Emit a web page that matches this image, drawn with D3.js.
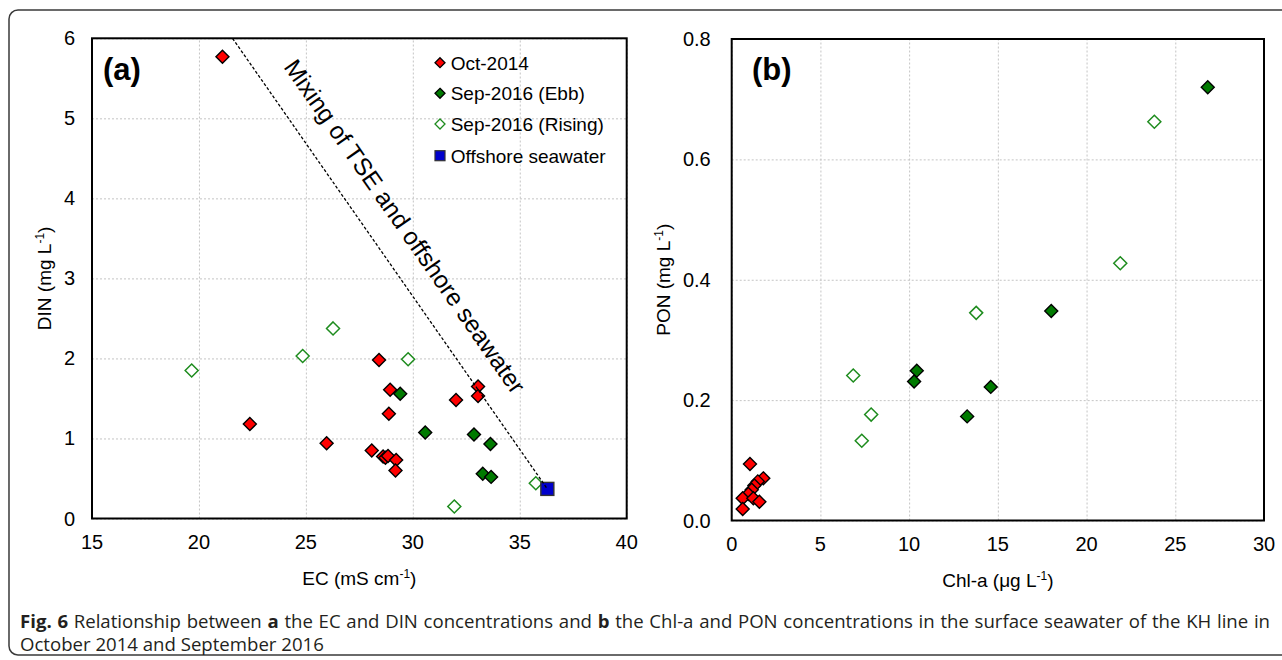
<!DOCTYPE html>
<html>
<head>
<meta charset="utf-8">
<script src="https://cdn.jsdelivr.net/npm/d3@7"></script>
<style>
  body { margin: 0; background: #fff; }
  svg { display: block; }
  .tick-label { font-family: Arial, "Liberation Sans", Helvetica, sans-serif; font-size: 20px; fill: #000; }
  .axis-title { font-family: Arial, "Liberation Sans", Helvetica, sans-serif; font-size: 19px; fill: #000; }
  .caption { font-family: "Open Sans", sans-serif; font-size: 18.6px; fill: #231f20; }
</style>
</head>
<body>
<svg id="canvas" width="1282" height="660"></svg>
<script>
// ---- data ----
// panel (a): EC (mS cm-1) vs DIN (mg L-1)
let oct2014A = [[21.1, 5.77], [22.38, 1.18], [25.97, 0.94], [28.42, 1.98], [28.94, 1.61], [28.88, 1.31],
                [28.08, 0.85], [28.61, 0.775], [28.72, 0.76], [28.84, 0.78], [29.22, 0.73], [29.19, 0.60],
                [33.05, 1.65], [33.05, 1.53], [32.02, 1.48]]
let ebb2016A = [[29.41, 1.56], [30.58, 1.075], [32.86, 1.05], [33.63, 0.93], [33.27, 0.56], [33.66, 0.52]]
let rising2016A = [[19.66, 1.85], [24.85, 2.03], [26.27, 2.375], [29.78, 1.99], [35.75, 0.44], [31.94, 0.15]]
let offshoreA = [[36.29, 0.37]]
let mixingLine = [[21.57, 6], [36.29, 0.37]]

// panel (b): Chl-a (ug L-1) vs PON (mg L-1)
let oct2014B = [[1.03, 0.094], [1.78, 0.070], [1.47, 0.065], [1.28, 0.058], [1.13, 0.051], [0.94, 0.044],
                [0.62, 0.037], [1.22, 0.037], [1.56, 0.031], [0.62, 0.019]]
let ebb2016B = [[26.83, 0.72], [18.01, 0.348], [10.43, 0.249], [10.28, 0.231], [14.6, 0.222], [13.27, 0.173]]
let rising2016B = [[23.82, 0.6625], [21.9, 0.4275], [13.78, 0.345], [6.85, 0.241], [7.86, 0.176], [7.33, 0.1325]]

let ticksAx = [15, 20, 25, 30, 35, 40]
let ticksAy = [0, 1, 2, 3, 4, 5, 6]
let ticksBx = [0, 5, 10, 15, 20, 25, 30]
let ticksBy = [0, 0.2, 0.4, 0.6, 0.8]

let legendNames = ['Oct-2014', 'Sep-2016 (Ebb)', 'Sep-2016 (Rising)', 'Offshore seawater']

let chartFont = 'Arial, "Liberation Sans", Helvetica, sans-serif'
let canvas = d3.select('#canvas')

// outer frame of the figure
canvas.append('rect')
    .attr('x', 9).attr('y', 10)
    .attr('width', 1290).attr('height', 645)
    .attr('rx', 9)
    .attr('fill', 'none')
    .attr('stroke', '#3a3a3a')
    .attr('stroke-width', 1.5)

let diamond = (r) => 'M0,' + (-r) + 'L' + r + ',0L0,' + r + 'L' + (-r) + ',0Z'

let styles = {
    oct: { fill: '#ff0000', stroke: '#000', sw: 1.4 },
    ebb: { fill: '#007a00', stroke: '#000', sw: 1.4 },
    rising: { fill: '#fff', stroke: '#1e8c1e', sw: 1.5 }
}

let drawPanel = (opt) => {
    let x = d3.scaleLinear().domain(opt.xDomain).range(opt.xRange)
    let y = d3.scaleLinear().domain(opt.yDomain).range(opt.yRange)
    let g = canvas.append('g')

    // dotted grid
    g.append('g').attr('transform', 'translate(0,' + opt.yRange[0] + ')')
        .call(d3.axisBottom(x).tickValues(opt.xTicks).tickSize(opt.yRange[1] - opt.yRange[0]).tickFormat(''))
        .call(a => a.select('.domain').remove())
        .call(a => a.selectAll('line').attr('stroke', '#c4c4c4').attr('stroke-dasharray', '2,2'))
    g.append('g').attr('transform', 'translate(' + opt.xRange[0] + ',0)')
        .call(d3.axisLeft(y).tickValues(opt.yTicks).tickSize(opt.xRange[0] - opt.xRange[1]).tickFormat(''))
        .call(a => a.select('.domain').remove())
        .call(a => a.selectAll('line').attr('stroke', '#c4c4c4').attr('stroke-dasharray', '2,2'))

    // tick labels
    g.selectAll('.xl').data(opt.xTicks).enter().append('text')
        .attr('class', 'tick-label')
        .attr('x', d => x(d)).attr('y', opt.yRange[0] + 30)
        .attr('text-anchor', 'middle')
        .text(d => d)
    g.selectAll('.yl').data(opt.yTicks).enter().append('text')
        .attr('class', 'tick-label')
        .attr('x', opt.xRange[0] - opt.yLabelGap).attr('y', d => y(d) + 7)
        .attr('text-anchor', 'end')
        .text(opt.yFormat)

    // plot border
    g.append('rect')
        .attr('x', opt.xRange[0]).attr('y', opt.yRange[1])
        .attr('width', opt.xRange[1] - opt.xRange[0])
        .attr('height', opt.yRange[0] - opt.yRange[1])
        .attr('fill', 'none').attr('stroke', '#000').attr('stroke-width', 2)

    // axis titles
    let xt = g.append('text').attr('class', 'axis-title')
        .attr('x', (opt.xRange[0] + opt.xRange[1]) / 2).attr('y', opt.yRange[0] + 66)
        .attr('text-anchor', 'middle')
    xt.append('tspan').text(opt.xTitle)
    xt.append('tspan').attr('dy', -7).attr('font-size', 12).text('-1')
    xt.append('tspan').attr('dy', 7).text(')')

    let cy = (opt.yRange[0] + opt.yRange[1]) / 2
    let yt = g.append('text').attr('class', 'axis-title')
        .attr('transform', 'translate(' + opt.yTitleX + ',' + cy + ') rotate(-90)')
        .attr('text-anchor', 'middle')
    yt.append('tspan').text(opt.yTitle)
    yt.append('tspan').attr('dy', -7).attr('font-size', 12).text('-1')
    yt.append('tspan').attr('dy', 7).text(')')

    // panel tag
    g.append('text')
        .attr('x', opt.tagX).attr('y', 80)
        .attr('font-family', chartFont)
        .attr('font-weight', 'bold').attr('font-size', 31)
        .text(opt.tag)

    // points
    opt.series.forEach(s => {
        let st = styles[s.style]
        g.selectAll(null).data(s.data).enter().append('path')
            .attr('d', diamond(6.5))
            .attr('transform', d => 'translate(' + x(d[0]) + ',' + y(d[1]) + ')')
            .attr('fill', st.fill).attr('stroke', st.stroke).attr('stroke-width', st.sw)
    })
    return { x: x, y: y, g: g }
}

// ---- panel (a) ----
let pa = drawPanel({
    xDomain: [15, 40], xRange: [92, 626.7],
    yDomain: [0, 6], yRange: [518.5, 38.3],
    xTicks: ticksAx, yTicks: ticksAy, yFormat: d => d, yLabelGap: 17,
    xTitle: 'EC (mS cm', yTitle: 'DIN (mg L', yTitleX: 51,
    tag: '(a)', tagX: 103,
    series: [
        { data: oct2014A, style: 'oct' },
        { data: ebb2016A, style: 'ebb' },
        { data: rising2016A, style: 'rising' }
    ]
})

pa.g.selectAll(null).data(offshoreA).enter().append('rect')
    .attr('x', d => pa.x(d[0]) - 6.5).attr('y', d => pa.y(d[1]) - 6.5)
    .attr('width', 13).attr('height', 13)
    .attr('fill', '#0000cc').attr('stroke', '#333').attr('stroke-width', 1.4)

let lineGen = d3.line().x(d => pa.x(d[0])).y(d => pa.y(d[1]))
pa.g.append('path')
    .attr('d', lineGen(mixingLine))
    .attr('fill', 'none').attr('stroke', '#000')
    .attr('stroke-width', 1.3).attr('stroke-dasharray', '3,2')

// label along the mixing line
let p0 = [pa.x(mixingLine[0][0]), pa.y(mixingLine[0][1])]
let p1 = [pa.x(mixingLine[1][0]), pa.y(mixingLine[1][1])]
let ang = Math.atan2(p1[1] - p0[1], p1[0] - p0[0]) * 180 / Math.PI
pa.g.append('text')
    .attr('transform', 'translate(' + (p0[0] + p1[0]) / 2 + ',' + (p0[1] + p1[1]) / 2 + ') rotate(' + ang + ')')
    .attr('x', -22).attr('y', -25)
    .attr('text-anchor', 'middle')
    .attr('font-family', chartFont)
    .attr('font-size', 24.5)
    .text('Mixing of TSE and offshore seawater')

// legend
let legend = pa.g.append('g')
let legRows = [62.7, 93.3, 124, 155.7]
legendNames.forEach((name, i) => {
    if (i < 3) {
        let st = styles[['oct', 'ebb', 'rising'][i]]
        legend.append('path').attr('d', diamond(5))
            .attr('transform', 'translate(440,' + legRows[i] + ')')
            .attr('fill', st.fill).attr('stroke', st.stroke).attr('stroke-width', 1.3)
    } else {
        legend.append('rect').attr('x', 435).attr('y', legRows[i] - 5)
            .attr('width', 10).attr('height', 10)
            .attr('fill', '#0000cc').attr('stroke', '#333').attr('stroke-width', 1.2)
    }
    legend.append('text')
        .attr('x', 450.7).attr('y', legRows[i] + 7)
        .attr('font-family', chartFont)
        .attr('font-size', 19)
        .text(name)
})

// ---- panel (b) ----
drawPanel({
    xDomain: [0, 30], xRange: [731.7, 1264],
    yDomain: [0, 0.8], yRange: [520.5, 39],
    xTicks: ticksBx, yTicks: ticksBy, yFormat: d => d.toFixed(1), yLabelGap: 21,
    xTitle: 'Chl-a (\u03bcg L', yTitle: 'PON (mg L', yTitleX: 670,
    tag: '(b)', tagX: 752,
    series: [
        { data: oct2014B, style: 'oct' },
        { data: ebb2016B, style: 'ebb' },
        { data: rising2016B, style: 'rising' }
    ]
})

// ---- caption (first line justified to the frame width) ----
let cap1 = canvas.append('text').attr('class', 'caption').attr('x', 20).attr('y', 628)
cap1.append('tspan').attr('font-weight', 'bold').text('Fig. 6')
cap1.append('tspan').text(' Relationship between ')
cap1.append('tspan').attr('font-weight', 'bold').text('a')
cap1.append('tspan').text(' the EC and DIN concentrations and ')
cap1.append('tspan').attr('font-weight', 'bold').text('b')
cap1.append('tspan').text(' the Chl-a and PON concentrations in the surface seawater of the KH line in')

let natural = cap1.node().getComputedTextLength()
let gaps = cap1.text().split(' ').length - 1
cap1.attr('word-spacing', (1250 - natural) / gaps)

canvas.append('text').attr('class', 'caption').attr('x', 20).attr('y', 651)
    .text('October 2014 and September 2016')
</script>
</body>
</html>
